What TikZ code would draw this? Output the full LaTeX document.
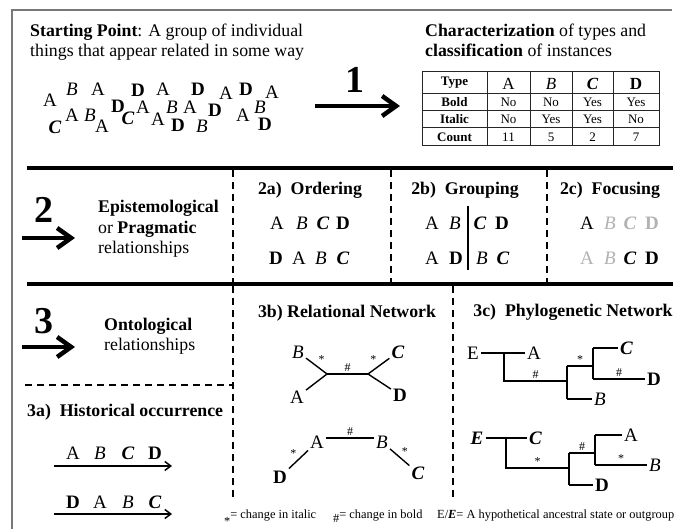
\documentclass[tikz,border=0pt]{standalone}
\usepackage{fontspec}
\setmainfont{Liberation Serif}
\usetikzlibrary{arrows.meta}
\usetikzlibrary{positioning}

\definecolor{fadegray}{RGB}{178,178,178}
\definecolor{framegray}{RGB}{120,120,120}

\newcommand{\typA}{A}
\newcommand{\typB}{\textit{B}}
\newcommand{\typC}{\textbf{\textit{C}}}
\newcommand{\typD}{\textbf{D}}
\newcommand{\bodysize}{\fontsize{17.8}{20.5}\selectfont}
\newcommand{\lettersize}{\fontsize{19}{22}\selectfont}
\newcommand{\marksize}{\fontsize{12}{14}\selectfont}
\newcommand{\cellsize}{\fontsize{13}{15}\selectfont}
\newcommand{\legendsize}{\fontsize{12.4}{15}\selectfont}

\begin{document}
\begin{tikzpicture}[x=1pt,y=-1pt,
	txt/.style={font=\bodysize, inner sep=0pt, align=left},
	head/.style={font=\bodysize\bfseries, inner sep=0pt},
	digit/.style={font=\fontsize{38}{40}\selectfont\bfseries, inner sep=0pt},
	letter/.style={font=\lettersize, inner sep=1.5pt},
	leaf/.style={font=\lettersize, inner sep=2pt},
	changemark/.style={font=\marksize, inner sep=1.5pt},
	cell/.style={font=\cellsize, inner sep=0pt},
	legend/.style={font=\legendsize, inner sep=0pt, anchor=base west},
	edgeline/.style={draw=framegray, line width=1.3pt},
	thickrule/.style={line width=4pt},
	sepdash/.style={line width=2pt, dash pattern=on 7pt off 5pt},
	tabrule/.style={line width=1pt, draw=black!85},
	bigarrow/.style={line width=4.5pt, -{Straight Barb[length=14pt,width=20pt]}},
	timearrow/.style={line width=1.5pt, -{Straight Barb[length=6pt,width=9pt]}},
	branch/.style={line width=1.4pt}]
	\useasboundingbox (0,0) rectangle (681,529);

	%% frame and separators
	\draw[edgeline] (12,529) -- (12,10) -- (672,10);
	\draw[thickrule] (27,168) -- (673,168);
	\draw[thickrule] (27,284) -- (673,284);
	\draw[sepdash] (233,170) -- (233,283);
	\draw[sepdash] (391,170) -- (391,283);
	\draw[sepdash] (547,170) -- (547,283);
	\draw[sepdash] (233,286) -- (233,500);
	\draw[sepdash] (453,286) -- (453,500);
	\draw[sepdash] (25,385) -- (233,385);

	%% starting point
	\node[txt, anchor=west] (start) at (30,42) {\textbf{Starting Point}: A group of individual\\things that appear related in some way};
	\foreach \x/\y/\t [count=\i] in {50/100/A, 98/89/A, 163/89/A, 226/93/A, 272/92/A, 72/115/A, 102/126/A, 143/107/A, 158/119/A, 190/107/A, 243/115/A,
		72/89/B, 90/115/B, 172/107/B, 202/126/B, 260/107/B, 55/127/C, 128/118/C,
		138/90/D, 198/89/D, 246/89/D, 118/106/D, 178/125/D, 215/110/D, 265/124/D}
		\node[letter] (pt-\i) at (\x,\y) {\csname typ\t\endcsname};

	%% step 1
	\node[digit] (one) at (355,80) {1};
	\coordinate (one-s) at (315,106);
	\coordinate (one-e) at (400,106);
	\draw[bigarrow] (one-s) -- (one-e);
	\node[txt, anchor=west] (charac) at (425,40.5) {\textbf{Characterization} of types and\\\textbf{classification} of instances};

	% table
	\draw[tabrule] (422,72) rectangle (659,146);
	\foreach \x in {487,530,572,613} \draw[tabrule] (\x,72) -- (\x,146);
	\foreach \y in {94,111,128} \draw[tabrule] (422,\y) -- (659,\y);
	\node[cell] (type-1) at (454.5,83) {\textbf{Type}};
	\foreach \x/\t [count=\i from 2] in {508.5/A, 551/B, 592.5/C, 636/D}
		\node[letter] (type-\i) at (\x,83.5) {\fontsize{17}{19}\selectfont\csname typ\t\endcsname};
	\foreach \x/\t [count=\i] in {454.5/\textbf{Bold}, 508.5/No, 551/No, 592.5/Yes, 636/Yes}
		\node[cell] (bold-\i) at (\x,102.5) {\t};
	\foreach \x/\t [count=\i] in {454.5/\textbf{Italic}, 508.5/No, 551/Yes, 592.5/Yes, 636/No}
		\node[cell] (ital-\i) at (\x,119.5) {\t};
	\foreach \x/\t [count=\i] in {454.5/\textbf{Count}, 508.5/11, 551/5, 592.5/2, 636/7}
		\node[cell] (count-\i) at (\x,137) {\t};

	%% step 2
	\node[digit] (two) at (44,210) {2};
	\coordinate (two-s) at (22,238);
	\coordinate (two-e) at (75,238);
	\draw[bigarrow] (two-s) -- (two-e);
	\node[txt, anchor=west] (episte) at (98,229) {\textbf{Epistemological}\\or \textbf{Pragmatic}\\relationships};

	\node[head] (order) at (310,190) {2a)\ \ Ordering};
	\foreach \x/\t [count=\i] in {277/A, 302/B, 323/C, 343/D}
		\node[letter] (ordA-\i) at (\x,223) {\csname typ\t\endcsname};
	\foreach \x/\t [count=\i] in {276/D, 299/A, 321/B, 343/C}
		\node[letter] (ordB-\i) at (\x,258) {\csname typ\t\endcsname};

	\node[head] (group) at (465,190) {2b)\ \ Grouping};
	\foreach \x/\t [count=\i] in {432/A, 455/B, 480/C, 502/D}
		\node[letter] (grpA-\i) at (\x,223) {\csname typ\t\endcsname};
	\foreach \x/\t [count=\i] in {432/A, 456/D, 482/B, 503/C}
		\node[letter] (grpB-\i) at (\x,258) {\csname typ\t\endcsname};
	\draw[line width=1.6pt] (468,206) -- (468,270);

	\node[head] (focus) at (610,190) {2c)\ \ Focusing};
	\foreach \x/\t/\c [count=\i] in {587/A/black, 610/B/fadegray, 630/C/fadegray, 652/D/fadegray}
		\node[letter, text=\c] (fcsA-\i) at (\x,223) {\csname typ\t\endcsname};
	\foreach \x/\t/\c [count=\i] in {587/A/fadegray, 610/B/fadegray, 630/C/black, 652/D/black}
		\node[letter, text=\c] (fcsB-\i) at (\x,258) {\csname typ\t\endcsname};

	%% step 3
	\node[digit] (three) at (44,321) {3};
	\coordinate (three-s) at (22,347);
	\coordinate (three-e) at (75,347);
	\draw[bigarrow] (three-s) -- (three-e);
	\node[txt, anchor=west] (onto) at (104,336) {\textbf{Ontological}\\relationships};

	% 3a
	\node[head, anchor=west] (hist) at (27,412) {3a)\ \ Historical occurrence};
	\foreach \x/\t [count=\i] in {73/A, 100/B, 128/C, 155/D}
		\node[letter] (hisA-\i) at (\x,453) {\csname typ\t\endcsname};
	\coordinate (hisA-s) at (54,466);
	\coordinate (hisA-e) at (172,466);
	\draw[timearrow] (hisA-s) -- (hisA-e);
	\foreach \x/\t [count=\i] in {73/D, 100/A, 128/B, 155/C}
		\node[letter] (hisB-\i) at (\x,502) {\csname typ\t\endcsname};
	\coordinate (hisB-s) at (54,514);
	\coordinate (hisB-e) at (172,514);
	\draw[timearrow] (hisB-s) -- (hisB-e);

	% 3b
	\node[head] (relnet) at (347,313) {3b) Relational Network};
	\node[leaf] (b2) at (298,352) {\typB};
	\node[leaf] (a2) at (297,397) {\typA};
	\node[leaf] (c2) at (398,352) {\typC};
	\node[leaf] (d2) at (400,395) {\typD};
	\coordinate (jl) at (327,374);
	\coordinate (jr) at (368,374);
	\draw[branch] (b2) -- node[changemark, above right]{*} (jl);
	\draw[branch] (a2) -- (jl);
	\draw[branch] (jl) -- node[changemark, above]{\#} (jr);
	\draw[branch] (jr) -- node[changemark, above left]{*} (c2);
	\draw[branch] (jr) -- (d2);

	\node[leaf] (a3) at (317,442) {\typA};
	\node[leaf] (b3) at (382,442) {\typB};
	\node[leaf] (d3) at (280,477) {\typD};
	\node[leaf] (c3) at (418,473) {\typC};
	\draw[branch] ([yshift=4pt]a3.east) -- node[changemark, above]{\#} ([yshift=4pt]b3.west);
	\draw[branch] (d3) -- node[changemark, above left]{*} (a3);
	\draw[branch] (b3) -- node[changemark, above right]{*} (c3);

	% 3c
	\node[head] (phylo) at (573,312) {3c)\ \ Phylogenetic Network};
	\node[leaf] (e1) at (473,353) {E};
	\node[leaf, anchor=west] (a1) at (525,353) {\typA};
	\node[leaf, anchor=west] (c1) at (618,348) {\typC};
	\node[leaf, anchor=west] (d1) at (645,379) {\typD};
	\node[leaf, anchor=west] (b1) at (592,399) {\typB};
	\coordinate (r1) at (504,353);
	\coordinate (h1) at (567,381);
	\coordinate (u1) at (567,366);
	\coordinate (v1) at (567,399);
	\coordinate (g1) at (593,366);
	\coordinate (w1) at (593,348);
	\coordinate (x1) at (593,379);
	\draw[branch] (e1) -- (a1);
	\draw[branch] (r1) |- node[changemark, pos=0.75, above]{\#} (h1);
	\draw[branch] (u1) -- (v1);
	\draw[branch] (u1) -- node[changemark, above]{*} (g1);
	\draw[branch] (w1) -- (x1);
	\draw[branch] (w1) -- (c1);
	\draw[branch] (x1) -- node[changemark, above]{\#} (d1);
	\draw[branch] (v1) -- (b1);

	\node[leaf] (e2) at (477,438) {\textbf{\textit{E}}};
	\node[leaf, anchor=west] (c4) at (527,438) {\typC};
	\node[leaf, anchor=west] (a4) at (622,435) {\typA};
	\node[leaf, anchor=west] (b4) at (647,465) {\typB};
	\node[leaf, anchor=west] (d4) at (593,485) {\typD};
	\coordinate (r2) at (506,438);
	\coordinate (h2) at (569,468);
	\coordinate (u2) at (569,453);
	\coordinate (v2) at (569,485);
	\coordinate (g2) at (595,453);
	\coordinate (w2) at (595,435);
	\coordinate (x2) at (595,465);
	\draw[branch] (e2) -- (c4);
	\draw[branch] (r2) |- node[changemark, pos=0.75, above]{*} (h2);
	\draw[branch] (u2) -- (v2);
	\draw[branch] (u2) -- node[changemark, above]{\#} (g2);
	\draw[branch] (w2) -- (x2);
	\draw[branch] (w2) -- (a4);
	\draw[branch] (x2) -- node[changemark, above]{*} (b4);
	\draw[branch] (v2) -- (d4);

	%% legend
	\node[legend] (leg-ital) at (224,519) {\raisebox{-6pt}{*}= change in italic};
	\node[legend] (leg-bold) at (333,519) {\raisebox{-4pt}{\#}= change in bold};
	\node[legend] (leg-anc) at (437,519) {E/\textbf{\textit{E}}= A hypothetical ancestral state or outgroup};
\end{tikzpicture}
\end{document}
